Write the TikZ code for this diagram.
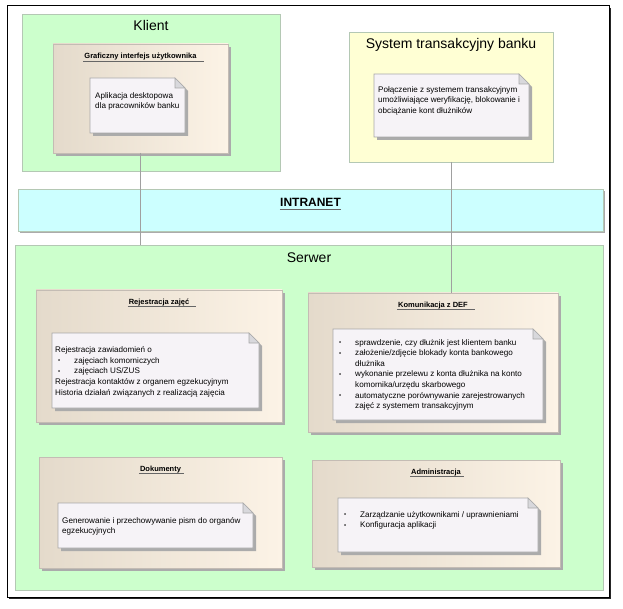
\documentclass[tikz,border=0pt]{standalone}
\usepackage{fontspec}
\setmainfont{Liberation Sans}
\usepackage{tikz}
\usetikzlibrary{positioning}
\usetikzlibrary{shadows}

\definecolor{grpgreen}{HTML}{CCFFCC}
\definecolor{grpyellow}{HTML}{FFFFD4}
\definecolor{netcyan}{HTML}{CCFFFF}
\definecolor{grpline}{HTML}{B4C8B4}
\definecolor{compleft}{HTML}{E4DACB}
\definecolor{compright}{HTML}{FCF3E6}
\definecolor{compline}{HTML}{C4BCB4}
\definecolor{notefill}{HTML}{F6F3F7}
\definecolor{noteline}{HTML}{A8A8A8}
\definecolor{foldfill}{HTML}{D8D8DC}
\definecolor{shadowgray}{HTML}{ABABAB}
\definecolor{linkgray}{HTML}{A0A0A0}

\newcommand{\bitem}[1]{\makebox[19pt][l]{\hspace{3pt}\raisebox{0.4pt}{\fontsize{6}{6}\selectfont\textbullet}}#1}
\newcommand{\bcont}[1]{\hspace*{19pt}#1}
\newcommand{\notepaper}[1]{%
  \fill[shadowgray] ([xshift=3pt,yshift=-3pt]#1.north west) -- ([xshift=-7pt,yshift=-3pt]#1.north east) -- ([xshift=3pt,yshift=-13pt]#1.north east) -- ([xshift=3pt,yshift=-3pt]#1.south east) -- ([xshift=3pt,yshift=-3pt]#1.south west) -- cycle;
  \filldraw[fill=notefill, draw=noteline, line width=0.6pt] (#1.north west) -- ([xshift=-10pt]#1.north east) -- ([yshift=-10pt]#1.north east) -- (#1.south east) -- (#1.south west) -- cycle;
  \filldraw[fill=foldfill, draw=noteline, line width=0.6pt] ([xshift=-10pt]#1.north east) -- ([xshift=-10pt,yshift=-10pt]#1.north east) -- ([yshift=-10pt]#1.north east) -- cycle;
}
\newcommand{\titleline}[2]{\draw[uline] ([yshift=-2.5pt]#1.base west) -- ([xshift=#2,yshift=-2.5pt]#1.base east);}

\begin{document}
\begin{tikzpicture}[x=1pt,y=-1pt]
	\tikzset{
		grp/.style={anchor=north west, draw=grpline, line width=0.6pt, inner sep=0pt, outer sep=0pt},
		grplabel/.style={font=\fontsize{14}{16}\selectfont, inner sep=0pt},
		comp/.style={anchor=north west, draw=compline, line width=0.6pt, left color=compleft, right color=compright, inner sep=0pt, outer sep=0pt, drop shadow={shadow xshift=3pt, shadow yshift=-3pt, fill=shadowgray, opacity=1}},
		comptitle/.style={font=\fontsize{7.5}{9}\selectfont\bfseries, inner sep=1pt},
		notebox/.style={anchor=north west, inner sep=0pt, outer sep=0pt},
		notetext/.style={anchor=north west, align=left, inner sep=0pt, font=\fontsize{8.1}{10.6}\selectfont},
		link/.style={draw=linkgray, line width=0.6pt},
		uline/.style={draw=black!60, line width=0.5pt}
	};
	\useasboundingbox (0,0) rectangle (623,609);
	\fill[white] (0,0) rectangle (623,609);
	% ramka
	\draw[line width=1pt] (7,6) rectangle (609,597);
	\draw[line width=1.5pt, black!85] (610.5,8) -- (610.5,598.5) -- (9,598.5);

	% Klient
	\node[grp, fill=grpgreen, minimum width=258pt, minimum height=157pt] (klient) at (22,14) {};
	\node[grplabel, below=6pt of klient.north] (klientlbl) {Klient};
	\node[comp, minimum width=175pt, minimum height=109pt] (graf) at (53,44) {};
	\node[comptitle, below=8pt of graf.north] (graft) {Graficzny interfejs użytkownika};
	\titleline{graft}{6pt}
	\node[notebox, minimum width=95pt, minimum height=55pt] (grafnote) at (90,78) {};
	\notepaper{grafnote}
	\node[notetext] (graftxt) at ([xshift=5pt,yshift=-14pt]grafnote.north west) {Aplikacja desktopowa\\dla pracowników banku};

	% System transakcyjny
	\node[grp, fill=grpyellow, minimum width=204pt, minimum height=130pt] (system) at (349,32) {};
	\node[grplabel, below=6pt of system.north] (systemlbl) {System transakcyjny banku};
	\node[notebox, minimum width=155pt, minimum height=63pt] (sysnote) at (374,74) {};
	\notepaper{sysnote}
	\node[notetext] (systxt) at ([xshift=4pt,yshift=-12pt]sysnote.north west) {Połączenie z systemem transakcyjnym\\umożliwiające weryfikację, blokowanie i\\obciążanie kont dłużników};

	% Intranet
	\node[grp, fill=netcyan, minimum width=585pt, minimum height=42pt, drop shadow={shadow xshift=2pt, shadow yshift=-2pt, fill=shadowgray, opacity=1}] (intranet) at (18,189) {};
	\node[font=\fontsize{12}{14}\selectfont\bfseries, inner sep=0pt, below=9pt of intranet.north] (intranetlbl) {INTRANET};
	\titleline{intranetlbl}{0pt}

	% Serwer
	\node[grp, fill=grpgreen, minimum width=588pt, minimum height=345pt] (serwer) at (15,245) {};
	\node[grplabel, below=8pt of serwer.north] (serwerlbl) {Serwer};

	\node[comp, minimum width=246pt, minimum height=132pt] (rej) at (36,290) {};
	\node[comptitle, below=7.5pt of rej.north] (rejt) {Rejestracja zajęć};
	\titleline{rejt}{6pt}
	\node[notebox, minimum width=207pt, minimum height=75pt] (rejnote) at (52,333) {};
	\notepaper{rejnote}
	\node[notetext] (rejtxt) at ([xshift=3pt,yshift=-13.5pt]rejnote.north west) {Rejestracja zawiadomień o\\
		\bitem{zajęciach komorniczych}\\
		\bitem{zajęciach US/ZUS}\\
		Rejestracja kontaktów z organem egzekucyjnym\\
		Historia działań związanych z realizacją zajęcia};

	\node[comp, minimum width=250pt, minimum height=139pt] (kom) at (308,293) {};
	\node[comptitle, below=7.5pt of kom.north] (komt) {Komunikacja z DEF};
	\titleline{komt}{6pt}
	\node[notebox, minimum width=210pt, minimum height=91pt] (komnote) at (333,329) {};
	\notepaper{komnote}
	\node[notetext] (komtxt) at ([xshift=3pt,yshift=-10pt]komnote.north west) {\bitem{sprawdzenie, czy dłużnik jest klientem banku}\\
		\bitem{założenie/zdjęcie blokady konta bankowego}\\
		\bcont{dłużnika}\\
		\bitem{wykonanie przelewu z konta dłużnika na konto}\\
		\bcont{komornika/urzędu skarbowego}\\
		\bitem{automatyczne porównywanie zarejestrowanych}\\
		\bcont{zajęć z systemem transakcyjnym}};

	\node[comp, minimum width=243pt, minimum height=111pt] (dok) at (39,457) {};
	\node[comptitle, below=7.5pt of dok.north] (dokt) {Dokumenty};
	\titleline{dokt}{2pt}
	\node[notebox, minimum width=195pt, minimum height=45pt] (doknote) at (58,503) {};
	\notepaper{doknote}
	\node[notetext] (doktxt) at ([xshift=4pt,yshift=-14pt]doknote.north west) {Generowanie i przechowywanie pism do organów\\egzekucyjnych};

	\node[comp, minimum width=248pt, minimum height=107pt] (adm) at (312,460) {};
	\node[comptitle, below=7.5pt of adm.north] (admt) {Administracja};
	\titleline{admt}{2pt}
	\node[notebox, minimum width=200pt, minimum height=54pt] (admnote) at (338,498) {};
	\notepaper{admnote}
	\node[notetext] (admtxt) at ([xshift=3pt,yshift=-13pt]admnote.north west) {\bitem{Zarządzanie użytkownikami / uprawnieniami}\\
		\bitem{Konfiguracja aplikacji}};

	% polaczenia
	\draw[link] (graf.south) -- (graf.south |- serwer.north);
	\draw[link] (system.south) -- (system.south |- kom.north);
\end{tikzpicture}
\end{document}
